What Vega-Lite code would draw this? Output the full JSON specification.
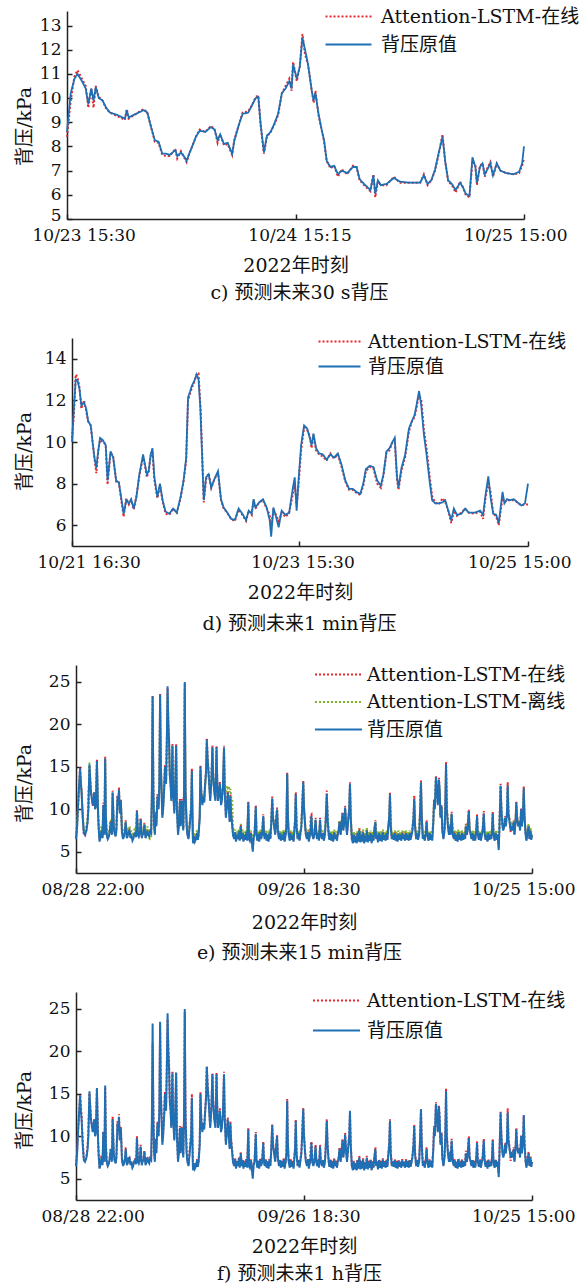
{
"$schema": "https://vega.github.io/schema/vega-lite/v6.json",
"background": "white",
"padding": {"left": 15, "top": 7, "right": 5, "bottom": 5},
"bounds": "flush",
"spacing": 119,
"resolve": {"scale": {"color": "independent", "strokeDash": "independent"}},
"config": {
  "font": "DejaVu Serif, Noto Sans CJK SC",
  "view": {"stroke": null},
  "axis": {"grid": false, "domainColor": "#222", "domainWidth": 1.5, "tickColor": "#222", "tickWidth": 1.5, "tickSize": -5, "labelFont": "DejaVu Serif, Noto Sans CJK SC", "labelFontSize": 17, "labelColor": "#111", "titleFont": "DejaVu Serif, Noto Sans CJK SC", "titleFontSize": 19, "titleFontWeight": "normal", "titleColor": "#111"},
  "axisX": {"labelPadding": 13, "titlePadding": 13, "labelFlush": true, "labelFlushOffset": 39, "labelOffset": 4, "labelAngle": 0},
  "axisY": {"labelPadding": 11, "titleAngle": -90, "titleAlign": "center", "titleBaseline": "middle"},
  "title": {"orient": "bottom", "font": "DejaVu Serif, Noto Sans CJK SC", "fontSize": 19, "fontWeight": "normal", "color": "#111", "offset": 9, "anchor": "middle"},
  "legend": {"orient": "none", "title": null, "labelFont": "DejaVu Serif, Noto Sans CJK SC", "labelFontSize": 19, "labelColor": "#111", "labelLimit": 400, "symbolType": "M-3,0H3", "symbolStrokeWidth": 2, "rowPadding": 8, "padding": 0}
},
"datasets": {
"c": [
{"t":0,"o":8.6,"a":8.4},{"t":10,"o":10.2,"a":9.9},{"t":20,"o":10.8,"a":10.9},{"t":28,"o":11.0,"a":11.15},{"t":40,"o":10.7,"a":10.8},{"t":50,"o":10.4,"a":10.5},{"t":57,"o":9.75,"a":9.6},{"t":65,"o":10.4,"a":10.4},{"t":71,"o":9.9,"a":9.6},{"t":77,"o":10.45,"a":10.5},{"t":85,"o":10.0,"a":10.05},{"t":95,"o":9.9,"a":9.9},{"t":105,"o":9.6,"a":9.55},{"t":115,"o":9.4,"a":9.4},{"t":135,"o":9.3,"a":9.25},{"t":155,"o":9.15,"a":9.1},{"t":160,"o":9.5,"a":9.55},{"t":165,"o":9.2,"a":9.15},{"t":185,"o":9.35,"a":9.35},{"t":205,"o":9.5,"a":9.55},{"t":215,"o":9.4,"a":9.4},{"t":225,"o":8.8,"a":8.8},{"t":235,"o":8.25,"a":8.2},{"t":245,"o":8.2,"a":8.15},{"t":255,"o":7.7,"a":7.65},{"t":265,"o":7.7,"a":7.6},{"t":275,"o":7.65,"a":7.6},{"t":290,"o":7.85,"a":7.9},{"t":295,"o":7.6,"a":7.5},{"t":305,"o":7.75,"a":7.8},{"t":315,"o":7.55,"a":7.5},{"t":320,"o":7.4,"a":7.35},{"t":327,"o":7.7,"a":7.7},{"t":335,"o":8.0,"a":8.0},{"t":345,"o":8.4,"a":8.4},{"t":355,"o":8.65,"a":8.7},{"t":370,"o":8.6,"a":8.6},{"t":385,"o":8.8,"a":8.85},{"t":395,"o":8.7,"a":8.7},{"t":403,"o":8.25,"a":8.15},{"t":410,"o":8.5,"a":8.5},{"t":420,"o":8.1,"a":8.05},{"t":430,"o":8.15,"a":8.1},{"t":442,"o":7.7,"a":7.65},{"t":448,"o":8.25,"a":8.3},{"t":460,"o":8.9,"a":8.9},{"t":470,"o":9.35,"a":9.4},{"t":485,"o":9.4,"a":9.45},{"t":495,"o":9.7,"a":9.7},{"t":505,"o":10.0,"a":10.05},{"t":512,"o":10.05,"a":10.1},{"t":518,"o":8.95,"a":8.9},{"t":527,"o":7.75,"a":7.7},{"t":535,"o":8.45,"a":8.4},{"t":545,"o":8.6,"a":8.6},{"t":555,"o":8.95,"a":8.9},{"t":565,"o":9.35,"a":9.3},{"t":575,"o":10.2,"a":10.2},{"t":585,"o":10.4,"a":10.5},{"t":595,"o":10.7,"a":10.8},{"t":601,"o":10.4,"a":10.3},{"t":605,"o":11.4,"a":11.5},{"t":610,"o":11.1,"a":11.1},{"t":615,"o":10.8,"a":10.7},{"t":623,"o":11.3,"a":11.3},{"t":630,"o":12.5,"a":12.65},{"t":637,"o":12.0,"a":11.8},{"t":645,"o":11.4,"a":11.4},{"t":655,"o":10.3,"a":10.3},{"t":660,"o":9.9,"a":9.8},{"t":665,"o":10.2,"a":10.3},{"t":673,"o":9.35,"a":9.3},{"t":680,"o":8.8,"a":8.8},{"t":688,"o":8.25,"a":8.2},{"t":695,"o":7.4,"a":7.4},{"t":705,"o":7.15,"a":7.1},{"t":715,"o":7.2,"a":7.2},{"t":725,"o":6.85,"a":6.75},{"t":735,"o":7.0,"a":7.05},{"t":750,"o":6.9,"a":6.85},{"t":765,"o":7.15,"a":7.2},{"t":775,"o":7.15,"a":7.15},{"t":783,"o":6.65,"a":6.6},{"t":795,"o":6.45,"a":6.4},{"t":805,"o":6.3,"a":6.25},{"t":812,"o":6.2,"a":6.15},{"t":820,"o":6.8,"a":6.85},{"t":825,"o":6.05,"a":5.9},{"t":832,"o":6.6,"a":6.55},{"t":840,"o":6.4,"a":6.4},{"t":855,"o":6.45,"a":6.4},{"t":875,"o":6.7,"a":6.75},{"t":890,"o":6.55,"a":6.5},{"t":915,"o":6.5,"a":6.5},{"t":945,"o":6.5,"a":6.5},{"t":955,"o":6.8,"a":6.85},{"t":965,"o":6.45,"a":6.4},{"t":975,"o":6.6,"a":6.6},{"t":985,"o":7.05,"a":7.0},{"t":995,"o":7.75,"a":7.7},{"t":1005,"o":8.4,"a":8.5},{"t":1012,"o":7.4,"a":7.4},{"t":1020,"o":6.6,"a":6.55},{"t":1030,"o":6.45,"a":6.4},{"t":1040,"o":6.2,"a":6.1},{"t":1052,"o":6.5,"a":6.55},{"t":1060,"o":6.3,"a":6.3},{"t":1067,"o":6.05,"a":6.0},{"t":1077,"o":5.95,"a":5.9},{"t":1085,"o":7.55,"a":7.4},{"t":1093,"o":7.15,"a":7.2},{"t":1097,"o":6.5,"a":6.4},{"t":1105,"o":7.15,"a":7.2},{"t":1112,"o":7.3,"a":7.3},{"t":1118,"o":6.85,"a":6.75},{"t":1125,"o":7.05,"a":7.1},{"t":1133,"o":7.3,"a":7.35},{"t":1140,"o":6.8,"a":6.75},{"t":1150,"o":7.3,"a":7.3},{"t":1160,"o":7.0,"a":7.0},{"t":1175,"o":6.9,"a":6.9},{"t":1195,"o":6.85,"a":6.85},{"t":1210,"o":6.95,"a":6.9},{"t":1218,"o":7.3,"a":7.2},{"t":1223,"o":8.0,"a":7.5}
],
"d": [
{"t":0,"o":10.0,"a":10.2},{"t":5,"o":11.6,"a":11.3},{"t":10,"o":13.0,"a":13.25},{"t":15,"o":12.95,"a":13.1},{"t":20,"o":12.55,"a":12.6},{"t":25,"o":11.75,"a":11.6},{"t":32,"o":11.9,"a":12.0},{"t":38,"o":11.6,"a":11.5},{"t":43,"o":11.0,"a":11.0},{"t":50,"o":10.8,"a":10.8},{"t":55,"o":10.0,"a":10.0},{"t":60,"o":9.25,"a":9.2},{"t":65,"o":8.75,"a":8.5},{"t":70,"o":9.55,"a":9.6},{"t":75,"o":10.2,"a":10.1},{"t":82,"o":10.1,"a":10.0},{"t":90,"o":9.85,"a":9.9},{"t":95,"o":8.15,"a":7.95},{"t":103,"o":9.55,"a":9.5},{"t":110,"o":9.25,"a":9.3},{"t":118,"o":8.15,"a":8.1},{"t":125,"o":8.05,"a":8.1},{"t":130,"o":7.5,"a":7.4},{"t":138,"o":6.55,"a":6.4},{"t":145,"o":7.2,"a":7.3},{"t":152,"o":7.05,"a":7.0},{"t":158,"o":7.25,"a":7.2},{"t":165,"o":6.8,"a":6.75},{"t":172,"o":7.35,"a":7.4},{"t":180,"o":8.45,"a":8.4},{"t":190,"o":9.4,"a":9.3},{"t":195,"o":8.9,"a":8.85},{"t":200,"o":8.45,"a":8.3},{"t":205,"o":8.6,"a":8.6},{"t":210,"o":9.4,"a":9.3},{"t":215,"o":9.7,"a":9.5},{"t":220,"o":8.3,"a":8.2},{"t":228,"o":7.35,"a":7.3},{"t":235,"o":8.0,"a":7.9},{"t":242,"o":7.2,"a":7.15},{"t":250,"o":6.65,"a":6.55},{"t":260,"o":6.55,"a":6.5},{"t":270,"o":6.8,"a":6.8},{"t":280,"o":6.6,"a":6.6},{"t":290,"o":7.35,"a":7.3},{"t":298,"o":8.15,"a":8.1},{"t":305,"o":9.25,"a":9.1},{"t":310,"o":12.15,"a":12.0},{"t":315,"o":12.4,"a":12.3},{"t":320,"o":12.7,"a":12.6},{"t":327,"o":12.95,"a":12.9},{"t":333,"o":13.25,"a":13.3},{"t":338,"o":13.0,"a":13.3},{"t":343,"o":11.6,"a":11.7},{"t":348,"o":9.1,"a":9.3},{"t":352,"o":7.2,"a":7.1},{"t":358,"o":8.3,"a":8.2},{"t":365,"o":8.45,"a":8.5},{"t":372,"o":7.8,"a":7.8},{"t":380,"o":8.2,"a":8.2},{"t":390,"o":8.6,"a":8.5},{"t":398,"o":7.25,"a":7.2},{"t":405,"o":6.85,"a":6.8},{"t":415,"o":6.6,"a":6.6},{"t":425,"o":6.3,"a":6.3},{"t":435,"o":6.25,"a":6.2},{"t":445,"o":6.8,"a":6.75},{"t":455,"o":6.55,"a":6.5},{"t":465,"o":6.25,"a":6.2},{"t":472,"o":6.7,"a":6.7},{"t":480,"o":6.55,"a":6.5},{"t":485,"o":7.25,"a":7.2},{"t":490,"o":6.85,"a":6.8},{"t":500,"o":7.1,"a":7.1},{"t":510,"o":7.25,"a":7.2},{"t":520,"o":6.85,"a":6.8},{"t":528,"o":6.25,"a":6.5},{"t":532,"o":5.45,"a":6.0},{"t":538,"o":6.85,"a":6.7},{"t":545,"o":6.4,"a":6.5},{"t":552,"o":5.9,"a":6.2},{"t":560,"o":6.7,"a":6.6},{"t":570,"o":6.5,"a":6.4},{"t":580,"o":6.6,"a":6.6},{"t":590,"o":7.8,"a":7.5},{"t":595,"o":8.3,"a":8.0},{"t":600,"o":6.7,"a":6.9},{"t":605,"o":8.15,"a":7.9},{"t":612,"o":9.85,"a":9.6},{"t":620,"o":10.8,"a":10.7},{"t":628,"o":10.65,"a":10.6},{"t":635,"o":10.2,"a":10.3},{"t":640,"o":9.85,"a":9.7},{"t":645,"o":10.4,"a":10.35},{"t":652,"o":9.7,"a":9.6},{"t":660,"o":9.45,"a":9.4},{"t":670,"o":9.4,"a":9.3},{"t":680,"o":9.15,"a":9.1},{"t":690,"o":9.4,"a":9.45},{"t":700,"o":9.25,"a":9.2},{"t":710,"o":9.45,"a":9.4},{"t":720,"o":8.9,"a":8.8},{"t":730,"o":8.15,"a":8.1},{"t":740,"o":7.75,"a":7.7},{"t":750,"o":7.75,"a":7.7},{"t":760,"o":7.6,"a":7.55},{"t":770,"o":7.5,"a":7.45},{"t":778,"o":8.0,"a":7.9},{"t":785,"o":8.7,"a":8.6},{"t":795,"o":8.85,"a":8.8},{"t":805,"o":8.8,"a":8.75},{"t":815,"o":8.15,"a":8.0},{"t":825,"o":7.9,"a":7.8},{"t":832,"o":8.45,"a":8.4},{"t":840,"o":9.55,"a":9.5},{"t":848,"o":9.7,"a":9.6},{"t":856,"o":10.0,"a":10.0},{"t":862,"o":10.2,"a":10.1},{"t":868,"o":8.35,"a":8.2},{"t":872,"o":7.8,"a":7.7},{"t":880,"o":8.75,"a":8.6},{"t":890,"o":9.4,"a":9.3},{"t":900,"o":10.65,"a":10.5},{"t":908,"o":11.0,"a":11.0},{"t":915,"o":11.3,"a":11.2},{"t":920,"o":11.75,"a":11.6},{"t":927,"o":12.45,"a":12.3},{"t":933,"o":11.75,"a":12.0},{"t":940,"o":10.35,"a":10.6},{"t":947,"o":9.4,"a":9.7},{"t":955,"o":8.15,"a":8.4},{"t":962,"o":7.2,"a":7.4},{"t":970,"o":7.05,"a":7.1},{"t":980,"o":7.05,"a":7.0},{"t":990,"o":7.1,"a":7.3},{"t":997,"o":7.2,"a":7.1},{"t":1005,"o":6.7,"a":6.7},{"t":1013,"o":6.25,"a":6.1},{"t":1020,"o":6.8,"a":6.7},{"t":1028,"o":6.5,"a":6.45},{"t":1040,"o":6.55,"a":6.6},{"t":1050,"o":6.8,"a":6.8},{"t":1060,"o":6.6,"a":6.6},{"t":1075,"o":6.6,"a":6.55},{"t":1090,"o":6.7,"a":6.65},{"t":1098,"o":6.5,"a":6.3},{"t":1105,"o":7.5,"a":7.4},{"t":1112,"o":8.35,"a":8.0},{"t":1118,"o":7.35,"a":7.6},{"t":1125,"o":6.55,"a":6.6},{"t":1133,"o":6.5,"a":6.4},{"t":1140,"o":6.1,"a":6.0},{"t":1145,"o":6.85,"a":6.7},{"t":1150,"o":7.6,"a":7.3},{"t":1155,"o":7.05,"a":7.1},{"t":1162,"o":7.25,"a":7.2},{"t":1170,"o":7.2,"a":7.2},{"t":1180,"o":7.25,"a":7.2},{"t":1190,"o":7.1,"a":7.1},{"t":1200,"o":6.95,"a":6.95},{"t":1210,"o":7.05,"a":7.0},{"t":1218,"o":8.0,"a":7.0}
],
"ef": [
{"t":0,"o":6.5,"a":6.7,"b":7.2,"h":6.6},{"t":3,"o":8.0,"a":8.2,"b":8.5,"h":8.3},{"t":5,"o":10.0,"a":10.2,"b":9.8,"h":10.3},{"t":8,"o":12.5,"a":12.7,"b":12.0,"h":12.6},{"t":11,"o":14.8,"a":15.0,"b":14.2,"h":14.9},{"t":13,"o":13.0,"a":13.2,"b":13.0,"h":13.5},{"t":15,"o":12.0,"a":12.2,"b":12.0,"h":12.4},{"t":18,"o":9.0,"a":9.2,"b":9.5,"h":9.4},{"t":21,"o":7.2,"a":7.0,"b":7.6,"h":7.3},{"t":24,"o":7.0,"a":6.9,"b":7.5,"h":7.0},{"t":28,"o":7.5,"a":7.6,"b":8.0,"h":7.6},{"t":31,"o":8.5,"a":8.6,"b":9.0,"h":8.8},{"t":33,"o":10.0,"a":10.2,"b":10.2,"h":10.3},{"t":36,"o":15.3,"a":15.0,"b":15.5,"h":15.1},{"t":38,"o":13.5,"a":13.8,"b":13.0,"h":13.7},{"t":40,"o":12.0,"a":12.3,"b":12.0,"h":12.2},{"t":43,"o":11.0,"a":11.2,"b":11.3,"h":11.0},{"t":45,"o":10.5,"a":10.4,"b":10.8,"h":10.6},{"t":49,"o":12.0,"a":12.1,"b":11.5,"h":12.0},{"t":51,"o":10.0,"a":10.2,"b":10.5,"h":10.2},{"t":53,"o":10.3,"a":10.5,"b":10.4,"h":10.4},{"t":56,"o":15.7,"a":15.9,"b":15.2,"h":15.6},{"t":59,"o":9.5,"a":9.8,"b":10.0,"h":9.6},{"t":61,"o":7.5,"a":7.6,"b":8.0,"h":7.6},{"t":63,"o":6.2,"a":6.4,"b":6.9,"h":6.3},{"t":66,"o":6.8,"a":6.9,"b":7.3,"h":6.9},{"t":68,"o":7.5,"a":7.6,"b":8.0,"h":7.8},{"t":71,"o":6.6,"a":6.7,"b":7.2,"h":6.8},{"t":73,"o":10.5,"a":10.8,"b":10.0,"h":10.6},{"t":76,"o":7.0,"a":7.2,"b":7.5,"h":7.1},{"t":78,"o":16.0,"a":16.2,"b":15.5,"h":15.8},{"t":80,"o":9.0,"a":9.3,"b":9.5,"h":9.2},{"t":82,"o":7.0,"a":7.1,"b":7.5,"h":7.1},{"t":85,"o":6.5,"a":6.6,"b":7.1,"h":6.6},{"t":88,"o":6.8,"a":6.9,"b":7.3,"h":6.9},{"t":90,"o":7.3,"a":7.4,"b":7.8,"h":7.4},{"t":93,"o":8.5,"a":8.7,"b":8.8,"h":8.6},{"t":96,"o":7.0,"a":7.1,"b":7.5,"h":7.2},{"t":98,"o":12.0,"a":12.2,"b":11.5,"h":12.3},{"t":101,"o":8.0,"a":8.2,"b":8.5,"h":8.1},{"t":103,"o":7.2,"a":7.3,"b":7.7,"h":7.3},{"t":106,"o":6.8,"a":6.9,"b":7.3,"h":6.9},{"t":108,"o":7.5,"a":7.6,"b":8.0,"h":7.6},{"t":111,"o":11.5,"a":11.7,"b":11.0,"h":11.8},{"t":113,"o":10.5,"a":10.7,"b":10.8,"h":10.6},{"t":115,"o":12.3,"a":12.6,"b":11.8,"h":12.6},{"t":117,"o":9.5,"a":9.8,"b":10.0,"h":9.7},{"t":120,"o":11.0,"a":11.2,"b":10.8,"h":11.1},{"t":123,"o":7.2,"a":7.4,"b":7.8,"h":7.3},{"t":126,"o":6.5,"a":6.6,"b":7.1,"h":6.6},{"t":128,"o":6.8,"a":6.9,"b":7.3,"h":6.9},{"t":131,"o":7.3,"a":7.4,"b":7.8,"h":7.4},{"t":133,"o":8.5,"a":8.7,"b":8.5,"h":8.7},{"t":136,"o":6.6,"a":6.7,"b":7.2,"h":6.7},{"t":138,"o":6.8,"a":6.9,"b":7.3,"h":6.9},{"t":141,"o":7.4,"a":7.5,"b":7.9,"h":7.5},{"t":143,"o":7.5,"a":7.6,"b":8.0,"h":7.6},{"t":146,"o":6.6,"a":6.7,"b":7.2,"h":6.7},{"t":148,"o":7.0,"a":7.1,"b":7.5,"h":7.1},{"t":151,"o":6.3,"a":6.4,"b":6.9,"h":6.4},{"t":153,"o":6.5,"a":6.6,"b":7.1,"h":6.6},{"t":156,"o":7.1,"a":7.2,"b":7.6,"h":7.2},{"t":158,"o":7.2,"a":7.3,"b":7.7,"h":7.3},{"t":161,"o":6.7,"a":6.8,"b":7.2,"h":6.8},{"t":163,"o":9.8,"a":10.0,"b":9.5,"h":10.0},{"t":166,"o":7.0,"a":7.1,"b":7.5,"h":7.1},{"t":168,"o":6.8,"a":6.9,"b":7.3,"h":6.9},{"t":171,"o":7.3,"a":7.4,"b":7.8,"h":7.4},{"t":173,"o":8.8,"a":9.0,"b":8.6,"h":9.0},{"t":176,"o":6.6,"a":6.7,"b":7.2,"h":6.7},{"t":178,"o":7.0,"a":7.1,"b":7.5,"h":7.1},{"t":181,"o":7.2,"a":7.3,"b":7.7,"h":7.3},{"t":183,"o":8.2,"a":8.4,"b":8.2,"h":8.3},{"t":186,"o":6.6,"a":6.7,"b":7.2,"h":6.7},{"t":188,"o":6.9,"a":7.0,"b":7.4,"h":7.0},{"t":191,"o":7.5,"a":7.6,"b":8.0,"h":7.6},{"t":193,"o":7.0,"a":7.1,"b":7.4,"h":7.1},{"t":196,"o":6.8,"a":6.9,"b":6.6,"h":6.9},{"t":198,"o":7.4,"a":7.5,"b":6.5,"h":7.5},{"t":201,"o":7.2,"a":7.3,"b":6.6,"h":7.3},{"t":203,"o":12.0,"a":11.0,"b":11.0,"h":10.0},{"t":205,"o":23.3,"a":23.4,"b":21.5,"h":21.0},{"t":207,"o":12.0,"a":12.5,"b":12.0,"h":13.0},{"t":209,"o":8.0,"a":8.3,"b":8.5,"h":8.5},{"t":211,"o":7.0,"a":7.2,"b":7.5,"h":7.3},{"t":213,"o":9.5,"a":9.7,"b":9.5,"h":9.8},{"t":215,"o":8.0,"a":8.2,"b":8.5,"h":8.2},{"t":218,"o":11.5,"a":11.8,"b":11.0,"h":11.8},{"t":221,"o":10.0,"a":10.3,"b":10.5,"h":10.2},{"t":223,"o":13.0,"a":13.3,"b":12.5,"h":13.5},{"t":225,"o":23.5,"a":23.6,"b":22.5,"h":23.2},{"t":227,"o":15.0,"a":15.5,"b":15.0,"h":15.8},{"t":229,"o":12.0,"a":12.3,"b":12.5,"h":12.4},{"t":231,"o":9.0,"a":9.3,"b":9.5,"h":9.4},{"t":233,"o":10.0,"a":10.3,"b":10.0,"h":10.3},{"t":236,"o":12.5,"a":12.8,"b":12.3,"h":12.7},{"t":238,"o":15.0,"a":15.2,"b":14.5,"h":15.3},{"t":241,"o":13.0,"a":13.3,"b":13.2,"h":13.4},{"t":243,"o":18.0,"a":18.3,"b":17.5,"h":18.5},{"t":245,"o":24.5,"a":24.3,"b":23.5,"h":23.8},{"t":247,"o":20.0,"a":20.5,"b":19.5,"h":20.5},{"t":249,"o":18.0,"a":18.2,"b":17.5,"h":18.4},{"t":251,"o":14.0,"a":14.3,"b":14.0,"h":14.5},{"t":253,"o":13.0,"a":13.2,"b":13.0,"h":13.3},{"t":255,"o":11.0,"a":11.3,"b":11.5,"h":11.2},{"t":258,"o":17.5,"a":17.7,"b":17.0,"h":17.6},{"t":260,"o":12.0,"a":12.3,"b":12.3,"h":12.4},{"t":263,"o":9.5,"a":9.8,"b":10.0,"h":9.7},{"t":265,"o":12.0,"a":12.2,"b":12.0,"h":12.3},{"t":268,"o":17.5,"a":17.7,"b":17.0,"h":17.6},{"t":270,"o":10.0,"a":10.3,"b":10.5,"h":10.2},{"t":273,"o":7.0,"a":7.2,"b":7.5,"h":7.2},{"t":275,"o":8.0,"a":8.2,"b":8.5,"h":8.3},{"t":278,"o":11.0,"a":11.2,"b":10.8,"h":11.2},{"t":280,"o":8.0,"a":8.2,"b":8.5,"h":8.3},{"t":283,"o":11.0,"a":11.2,"b":10.8,"h":11.2},{"t":285,"o":9.0,"a":9.2,"b":9.5,"h":9.3},{"t":287,"o":7.5,"a":7.7,"b":8.0,"h":7.8},{"t":289,"o":12.0,"a":12.5,"b":11.5,"h":12.5},{"t":291,"o":25.0,"a":24.8,"b":24.0,"h":24.6},{"t":293,"o":12.0,"a":12.5,"b":12.5,"h":13.0},{"t":296,"o":8.0,"a":8.3,"b":8.5,"h":8.4},{"t":298,"o":7.0,"a":7.2,"b":7.5,"h":7.2},{"t":301,"o":6.5,"a":6.6,"b":7.0,"h":6.6},{"t":303,"o":7.5,"a":7.6,"b":8.0,"h":7.7},{"t":305,"o":8.5,"a":8.7,"b":8.8,"h":8.8},{"t":308,"o":10.0,"a":10.5,"b":10.0,"h":10.6},{"t":310,"o":14.5,"a":14.8,"b":14.0,"h":15.0},{"t":312,"o":8.0,"a":8.5,"b":8.5,"h":8.8},{"t":313,"o":6.0,"a":6.1,"b":6.5,"h":6.2},{"t":316,"o":6.8,"a":6.9,"b":7.3,"h":6.9},{"t":318,"o":6.2,"a":6.3,"b":6.8,"h":6.3},{"t":321,"o":6.5,"a":6.6,"b":7.0,"h":6.6},{"t":324,"o":7.2,"a":7.3,"b":7.6,"h":7.3},{"t":326,"o":6.4,"a":6.5,"b":7.0,"h":6.5},{"t":328,"o":7.0,"a":7.1,"b":7.5,"h":7.1},{"t":331,"o":9.0,"a":9.3,"b":9.0,"h":9.3},{"t":333,"o":15.0,"a":15.2,"b":14.5,"h":15.2},{"t":335,"o":12.0,"a":12.3,"b":12.0,"h":12.4},{"t":338,"o":10.5,"a":10.7,"b":11.0,"h":10.8},{"t":341,"o":11.5,"a":11.7,"b":11.5,"h":11.7},{"t":343,"o":10.8,"a":11.0,"b":11.2,"h":11.0},{"t":345,"o":12.5,"a":12.8,"b":12.5,"h":12.7},{"t":348,"o":14.5,"a":14.7,"b":14.0,"h":14.8},{"t":350,"o":18.2,"a":18.4,"b":17.5,"h":18.3},{"t":352,"o":16.0,"a":16.3,"b":15.8,"h":16.2},{"t":355,"o":14.0,"a":14.3,"b":14.0,"h":14.4},{"t":357,"o":12.5,"a":12.8,"b":12.8,"h":12.7},{"t":359,"o":11.0,"a":11.3,"b":11.5,"h":11.2},{"t":362,"o":13.0,"a":13.2,"b":13.0,"h":13.3},{"t":365,"o":17.3,"a":17.5,"b":16.8,"h":17.4},{"t":367,"o":14.0,"a":14.3,"b":14.0,"h":14.2},{"t":370,"o":12.0,"a":12.2,"b":12.3,"h":12.2},{"t":373,"o":11.0,"a":11.2,"b":11.5,"h":11.2},{"t":376,"o":17.3,"a":17.5,"b":16.8,"h":17.5},{"t":378,"o":13.0,"a":13.3,"b":13.0,"h":13.2},{"t":380,"o":11.0,"a":11.2,"b":11.5,"h":11.3},{"t":383,"o":12.0,"a":12.2,"b":12.3,"h":12.2},{"t":385,"o":13.0,"a":13.2,"b":12.8,"h":13.3},{"t":388,"o":10.5,"a":10.7,"b":11.3,"h":10.7},{"t":390,"o":11.0,"a":11.2,"b":11.5,"h":11.2},{"t":393,"o":12.5,"a":12.7,"b":12.5,"h":12.6},{"t":396,"o":17.3,"a":17.5,"b":16.5,"h":17.6},{"t":398,"o":12.0,"a":12.3,"b":12.5,"h":12.4},{"t":401,"o":9.0,"a":9.3,"b":12.0,"h":9.3},{"t":404,"o":10.5,"a":10.7,"b":12.8,"h":10.8},{"t":406,"o":12.0,"a":12.2,"b":12.5,"h":12.2},{"t":409,"o":10.0,"a":10.3,"b":12.7,"h":10.4},{"t":411,"o":8.5,"a":8.7,"b":12.0,"h":8.8},{"t":413,"o":11.5,"a":11.8,"b":12.4,"h":11.8},{"t":415,"o":9.5,"a":9.8,"b":11.5,"h":9.7},{"t":418,"o":8.0,"a":8.2,"b":11.0,"h":8.3},{"t":420,"o":7.0,"a":7.2,"b":8.0,"h":7.2},{"t":423,"o":6.5,"a":6.6,"b":7.2,"h":6.6},{"t":426,"o":7.3,"a":7.4,"b":7.6,"h":7.4},{"t":428,"o":6.2,"a":6.3,"b":6.8,"h":6.3},{"t":431,"o":7.0,"a":7.1,"b":7.4,"h":7.1},{"t":433,"o":6.5,"a":6.6,"b":7.0,"h":6.6},{"t":436,"o":7.4,"a":7.5,"b":7.7,"h":7.5},{"t":438,"o":6.3,"a":6.4,"b":6.9,"h":6.4},{"t":441,"o":8.0,"a":8.2,"b":8.3,"h":8.2},{"t":443,"o":6.5,"a":6.6,"b":7.0,"h":6.6},{"t":446,"o":7.2,"a":7.3,"b":7.6,"h":7.3},{"t":448,"o":6.2,"a":6.3,"b":6.8,"h":6.3},{"t":451,"o":7.0,"a":7.1,"b":7.4,"h":7.1},{"t":453,"o":6.4,"a":6.5,"b":6.9,"h":6.5},{"t":456,"o":7.3,"a":7.4,"b":7.6,"h":7.4},{"t":458,"o":6.3,"a":6.4,"b":6.9,"h":6.4},{"t":461,"o":10.8,"a":11.0,"b":10.5,"h":11.0},{"t":463,"o":6.5,"a":6.7,"b":7.0,"h":6.7},{"t":465,"o":6.3,"a":6.4,"b":6.9,"h":6.4},{"t":468,"o":7.2,"a":7.3,"b":7.5,"h":7.3},{"t":470,"o":6.4,"a":6.5,"b":6.9,"h":6.5},{"t":473,"o":5.0,"a":5.3,"b":6.0,"h":5.4},{"t":475,"o":6.5,"a":6.6,"b":7.0,"h":6.6},{"t":478,"o":7.2,"a":7.3,"b":7.5,"h":7.3},{"t":481,"o":10.3,"a":10.5,"b":10.0,"h":10.5},{"t":483,"o":7.0,"a":7.1,"b":7.4,"h":7.1},{"t":485,"o":6.3,"a":6.4,"b":6.9,"h":6.4},{"t":488,"o":7.1,"a":7.2,"b":7.5,"h":7.2},{"t":490,"o":6.2,"a":6.3,"b":6.8,"h":6.3},{"t":493,"o":7.3,"a":7.4,"b":7.6,"h":7.4},{"t":495,"o":6.5,"a":6.6,"b":7.0,"h":6.6},{"t":498,"o":7.0,"a":7.1,"b":7.4,"h":7.1},{"t":501,"o":9.2,"a":9.4,"b":9.0,"h":9.4},{"t":503,"o":7.0,"a":7.1,"b":7.4,"h":7.1},{"t":505,"o":6.5,"a":6.6,"b":7.0,"h":6.6},{"t":508,"o":7.2,"a":7.3,"b":7.5,"h":7.3},{"t":510,"o":6.3,"a":6.4,"b":6.9,"h":6.4},{"t":513,"o":7.0,"a":7.1,"b":7.4,"h":7.1},{"t":515,"o":6.2,"a":6.3,"b":6.8,"h":6.3},{"t":518,"o":7.3,"a":7.4,"b":7.6,"h":7.4},{"t":520,"o":6.5,"a":6.6,"b":7.0,"h":6.6},{"t":522,"o":8.0,"a":8.2,"b":8.2,"h":8.2},{"t":525,"o":11.3,"a":11.5,"b":11.0,"h":11.5},{"t":527,"o":9.0,"a":9.2,"b":9.3,"h":9.2},{"t":530,"o":8.0,"a":8.2,"b":8.4,"h":8.2},{"t":533,"o":7.0,"a":7.1,"b":7.5,"h":7.1},{"t":535,"o":8.5,"a":8.7,"b":8.6,"h":8.7},{"t":538,"o":10.0,"a":10.2,"b":9.8,"h":10.2},{"t":540,"o":7.5,"a":7.6,"b":7.8,"h":7.6},{"t":543,"o":6.5,"a":6.6,"b":7.0,"h":6.6},{"t":546,"o":7.2,"a":7.3,"b":7.5,"h":7.3},{"t":548,"o":6.3,"a":6.4,"b":6.9,"h":6.4},{"t":551,"o":7.0,"a":7.1,"b":7.4,"h":7.1},{"t":553,"o":6.4,"a":6.5,"b":6.9,"h":6.5},{"t":556,"o":7.3,"a":7.4,"b":7.6,"h":7.4},{"t":558,"o":6.2,"a":6.3,"b":6.8,"h":6.3},{"t":561,"o":7.0,"a":7.1,"b":7.4,"h":7.1},{"t":563,"o":8.0,"a":8.2,"b":8.2,"h":8.2},{"t":565,"o":14.2,"a":14.3,"b":13.8,"h":14.4},{"t":567,"o":9.0,"a":9.2,"b":9.3,"h":9.2},{"t":569,"o":7.0,"a":7.1,"b":7.4,"h":7.1},{"t":572,"o":6.3,"a":6.4,"b":6.9,"h":6.4},{"t":574,"o":7.2,"a":7.3,"b":7.5,"h":7.3},{"t":577,"o":6.4,"a":6.5,"b":6.9,"h":6.5},{"t":579,"o":7.0,"a":7.1,"b":7.4,"h":7.1},{"t":582,"o":6.2,"a":6.3,"b":6.8,"h":6.3},{"t":584,"o":7.3,"a":7.4,"b":7.6,"h":7.4},{"t":586,"o":8.5,"a":8.7,"b":8.6,"h":8.7},{"t":588,"o":11.8,"a":12.0,"b":11.3,"h":12.0},{"t":590,"o":8.0,"a":8.2,"b":8.4,"h":8.2},{"t":593,"o":6.5,"a":6.6,"b":7.0,"h":6.6},{"t":596,"o":7.2,"a":7.3,"b":7.5,"h":7.3},{"t":598,"o":6.3,"a":6.4,"b":6.9,"h":6.4},{"t":600,"o":7.0,"a":7.1,"b":7.4,"h":7.1},{"t":603,"o":8.0,"a":8.2,"b":8.2,"h":8.2},{"t":605,"o":10.0,"a":10.2,"b":10.0,"h":10.2},{"t":608,"o":13.2,"a":13.4,"b":12.8,"h":13.4},{"t":610,"o":10.0,"a":10.3,"b":10.4,"h":10.3},{"t":613,"o":8.0,"a":8.2,"b":8.4,"h":8.2},{"t":615,"o":7.0,"a":7.1,"b":7.4,"h":7.1},{"t":618,"o":6.5,"a":6.6,"b":7.0,"h":6.6},{"t":621,"o":7.3,"a":7.4,"b":7.6,"h":7.4},{"t":623,"o":6.2,"a":6.3,"b":6.8,"h":6.3},{"t":626,"o":7.0,"a":7.1,"b":7.4,"h":7.1},{"t":628,"o":7.5,"a":9.3,"b":7.8,"h":9.0},{"t":630,"o":9.2,"a":9.4,"b":9.0,"h":9.4},{"t":632,"o":7.0,"a":7.1,"b":7.4,"h":7.1},{"t":635,"o":6.5,"a":6.6,"b":7.0,"h":6.6},{"t":638,"o":7.2,"a":7.3,"b":7.5,"h":7.3},{"t":641,"o":8.8,"a":9.0,"b":8.6,"h":9.0},{"t":643,"o":7.0,"a":7.1,"b":7.4,"h":7.1},{"t":645,"o":6.5,"a":6.6,"b":7.0,"h":6.6},{"t":648,"o":7.2,"a":7.3,"b":7.5,"h":7.3},{"t":650,"o":6.3,"a":6.4,"b":6.9,"h":6.4},{"t":653,"o":8.8,"a":9.0,"b":8.6,"h":9.0},{"t":655,"o":7.0,"a":7.1,"b":7.4,"h":7.1},{"t":658,"o":6.5,"a":6.6,"b":7.0,"h":6.6},{"t":661,"o":7.2,"a":7.3,"b":7.5,"h":7.3},{"t":663,"o":6.3,"a":6.4,"b":6.9,"h":6.4},{"t":666,"o":7.0,"a":7.1,"b":7.4,"h":7.1},{"t":668,"o":8.5,"a":8.7,"b":8.6,"h":8.7},{"t":671,"o":11.8,"a":12.2,"b":11.3,"h":12.0},{"t":673,"o":9.0,"a":9.2,"b":9.3,"h":9.2},{"t":676,"o":7.0,"a":7.1,"b":7.4,"h":7.1},{"t":678,"o":6.4,"a":6.5,"b":6.9,"h":6.5},{"t":681,"o":7.2,"a":7.3,"b":7.5,"h":7.3},{"t":683,"o":6.3,"a":6.4,"b":6.9,"h":6.4},{"t":686,"o":7.0,"a":7.1,"b":7.4,"h":7.1},{"t":688,"o":6.2,"a":6.3,"b":6.8,"h":6.3},{"t":691,"o":7.3,"a":7.4,"b":7.6,"h":7.4},{"t":693,"o":6.5,"a":6.6,"b":7.0,"h":6.6},{"t":696,"o":7.0,"a":7.1,"b":7.4,"h":7.1},{"t":698,"o":6.3,"a":6.4,"b":6.9,"h":6.4},{"t":701,"o":7.2,"a":7.3,"b":7.5,"h":7.3},{"t":703,"o":7.5,"a":7.6,"b":7.8,"h":7.6},{"t":705,"o":8.5,"a":8.7,"b":8.6,"h":8.7},{"t":708,"o":7.0,"a":7.1,"b":7.4,"h":7.1},{"t":710,"o":8.0,"a":8.2,"b":8.2,"h":8.2},{"t":713,"o":9.5,"a":9.7,"b":9.3,"h":9.7},{"t":715,"o":7.5,"a":7.6,"b":7.8,"h":7.6},{"t":718,"o":8.5,"a":8.7,"b":8.6,"h":8.7},{"t":720,"o":10.2,"a":10.4,"b":10.0,"h":10.4},{"t":723,"o":8.0,"a":8.2,"b":8.3,"h":8.2},{"t":725,"o":7.0,"a":7.1,"b":7.4,"h":7.1},{"t":728,"o":8.5,"a":8.7,"b":8.6,"h":8.7},{"t":731,"o":10.0,"a":10.2,"b":10.0,"h":10.2},{"t":733,"o":13.0,"a":13.2,"b":12.5,"h":12.8},{"t":735,"o":9.0,"a":9.2,"b":9.3,"h":9.2},{"t":738,"o":6.5,"a":6.6,"b":7.0,"h":6.6},{"t":741,"o":6.0,"a":6.2,"b":6.7,"h":6.2},{"t":743,"o":7.0,"a":7.1,"b":7.4,"h":7.1},{"t":746,"o":6.1,"a":6.2,"b":6.7,"h":6.2},{"t":748,"o":6.8,"a":6.9,"b":7.2,"h":6.9},{"t":751,"o":6.0,"a":6.1,"b":6.6,"h":6.1},{"t":753,"o":7.2,"a":7.3,"b":7.5,"h":7.3},{"t":756,"o":6.2,"a":6.3,"b":6.8,"h":6.3},{"t":758,"o":7.5,"a":7.8,"b":7.8,"h":7.7},{"t":761,"o":6.1,"a":6.2,"b":6.7,"h":6.2},{"t":763,"o":7.0,"a":7.1,"b":7.4,"h":7.1},{"t":766,"o":6.2,"a":6.3,"b":6.8,"h":6.3},{"t":768,"o":7.3,"a":7.4,"b":7.6,"h":7.4},{"t":771,"o":6.0,"a":6.1,"b":6.6,"h":6.1},{"t":773,"o":6.9,"a":7.0,"b":7.3,"h":7.0},{"t":776,"o":6.2,"a":6.3,"b":6.8,"h":6.3},{"t":778,"o":7.5,"a":7.7,"b":7.8,"h":7.7},{"t":781,"o":6.1,"a":6.2,"b":6.7,"h":6.2},{"t":783,"o":7.0,"a":7.1,"b":7.4,"h":7.1},{"t":786,"o":6.3,"a":6.4,"b":6.9,"h":6.4},{"t":788,"o":7.2,"a":7.3,"b":7.5,"h":7.3},{"t":791,"o":6.0,"a":6.1,"b":6.6,"h":6.1},{"t":793,"o":7.0,"a":7.1,"b":7.4,"h":7.1},{"t":796,"o":6.3,"a":6.4,"b":6.9,"h":6.4},{"t":798,"o":7.4,"a":7.5,"b":7.7,"h":7.5},{"t":801,"o":8.5,"a":8.7,"b":8.5,"h":8.7},{"t":803,"o":6.5,"a":6.6,"b":7.0,"h":6.6},{"t":806,"o":7.0,"a":7.1,"b":7.4,"h":7.1},{"t":808,"o":6.1,"a":6.2,"b":6.7,"h":6.2},{"t":811,"o":7.2,"a":7.3,"b":7.5,"h":7.3},{"t":813,"o":6.3,"a":6.4,"b":6.9,"h":6.4},{"t":816,"o":7.0,"a":7.1,"b":7.4,"h":7.1},{"t":818,"o":6.2,"a":6.3,"b":6.8,"h":6.3},{"t":821,"o":7.3,"a":7.4,"b":7.6,"h":7.4},{"t":823,"o":6.4,"a":6.5,"b":6.9,"h":6.5},{"t":826,"o":7.0,"a":7.1,"b":7.4,"h":7.1},{"t":828,"o":6.3,"a":6.4,"b":6.9,"h":6.4},{"t":831,"o":7.2,"a":7.3,"b":7.5,"h":7.3},{"t":833,"o":6.4,"a":6.5,"b":6.9,"h":6.5},{"t":836,"o":8.0,"a":8.2,"b":8.2,"h":8.2},{"t":838,"o":9.0,"a":9.2,"b":9.0,"h":9.2},{"t":840,"o":11.8,"a":12.0,"b":11.3,"h":12.0},{"t":842,"o":8.0,"a":8.2,"b":8.4,"h":8.2},{"t":845,"o":6.5,"a":6.6,"b":7.0,"h":6.6},{"t":848,"o":7.0,"a":7.1,"b":7.4,"h":7.1},{"t":850,"o":6.4,"a":6.5,"b":6.9,"h":6.5},{"t":853,"o":7.2,"a":7.3,"b":7.5,"h":7.3},{"t":855,"o":6.3,"a":6.4,"b":6.9,"h":6.4},{"t":858,"o":7.0,"a":7.1,"b":7.4,"h":7.1},{"t":860,"o":6.2,"a":6.3,"b":6.8,"h":6.3},{"t":863,"o":7.1,"a":7.2,"b":7.5,"h":7.2},{"t":865,"o":6.4,"a":6.5,"b":6.9,"h":6.5},{"t":868,"o":7.0,"a":7.1,"b":7.4,"h":7.1},{"t":870,"o":6.3,"a":6.4,"b":6.9,"h":6.4},{"t":873,"o":7.2,"a":7.3,"b":7.5,"h":7.3},{"t":875,"o":6.5,"a":6.6,"b":7.0,"h":6.6},{"t":878,"o":7.0,"a":7.1,"b":7.4,"h":7.1},{"t":880,"o":6.3,"a":6.4,"b":6.9,"h":6.4},{"t":883,"o":7.2,"a":7.3,"b":7.5,"h":7.3},{"t":885,"o":6.4,"a":6.5,"b":6.9,"h":6.5},{"t":888,"o":7.0,"a":7.1,"b":7.4,"h":7.1},{"t":890,"o":6.3,"a":6.4,"b":6.9,"h":6.4},{"t":893,"o":7.2,"a":7.3,"b":7.5,"h":7.3},{"t":895,"o":6.4,"a":6.5,"b":6.9,"h":6.5},{"t":898,"o":7.0,"a":7.1,"b":7.4,"h":7.1},{"t":900,"o":7.5,"a":7.6,"b":7.8,"h":7.6},{"t":903,"o":9.0,"a":9.2,"b":9.0,"h":9.2},{"t":905,"o":11.2,"a":11.6,"b":10.8,"h":11.4},{"t":907,"o":8.0,"a":8.2,"b":8.4,"h":8.2},{"t":910,"o":6.5,"a":6.6,"b":7.0,"h":6.6},{"t":913,"o":7.2,"a":7.3,"b":7.5,"h":7.3},{"t":915,"o":6.4,"a":6.5,"b":6.9,"h":6.5},{"t":918,"o":7.0,"a":7.1,"b":7.4,"h":7.1},{"t":920,"o":9.0,"a":9.2,"b":9.0,"h":9.2},{"t":923,"o":13.2,"a":13.4,"b":12.8,"h":13.3},{"t":925,"o":9.0,"a":9.3,"b":9.3,"h":9.2},{"t":928,"o":6.5,"a":6.6,"b":7.0,"h":6.6},{"t":931,"o":7.0,"a":7.1,"b":7.4,"h":7.1},{"t":933,"o":6.3,"a":6.4,"b":6.9,"h":6.4},{"t":936,"o":7.2,"a":7.3,"b":7.5,"h":7.3},{"t":938,"o":8.5,"a":8.7,"b":8.6,"h":8.7},{"t":940,"o":7.0,"a":7.1,"b":7.4,"h":7.1},{"t":943,"o":6.3,"a":6.4,"b":6.9,"h":6.4},{"t":946,"o":7.2,"a":7.3,"b":7.5,"h":7.3},{"t":948,"o":6.4,"a":6.5,"b":6.9,"h":6.5},{"t":951,"o":7.0,"a":7.1,"b":7.4,"h":7.1},{"t":953,"o":6.3,"a":6.4,"b":6.9,"h":6.4},{"t":956,"o":8.5,"a":8.7,"b":8.6,"h":8.7},{"t":958,"o":11.0,"a":11.2,"b":10.8,"h":11.2},{"t":960,"o":10.0,"a":10.2,"b":10.2,"h":10.2},{"t":963,"o":13.8,"a":14.0,"b":13.5,"h":14.0},{"t":966,"o":12.0,"a":12.2,"b":12.3,"h":12.2},{"t":968,"o":10.5,"a":10.7,"b":10.8,"h":10.7},{"t":971,"o":13.5,"a":13.7,"b":13.2,"h":13.6},{"t":973,"o":12.0,"a":12.2,"b":12.2,"h":12.2},{"t":975,"o":9.0,"a":9.2,"b":9.4,"h":9.2},{"t":978,"o":10.3,"a":10.5,"b":10.2,"h":10.5},{"t":980,"o":7.5,"a":7.6,"b":7.8,"h":7.6},{"t":983,"o":6.5,"a":6.6,"b":7.0,"h":6.6},{"t":986,"o":7.5,"a":7.7,"b":7.8,"h":7.7},{"t":988,"o":10.0,"a":10.5,"b":10.0,"h":10.3},{"t":990,"o":15.3,"a":15.6,"b":14.8,"h":15.6},{"t":992,"o":10.0,"a":10.4,"b":10.4,"h":10.5},{"t":995,"o":8.0,"a":8.2,"b":8.4,"h":8.2},{"t":998,"o":7.0,"a":7.1,"b":7.4,"h":7.1},{"t":1000,"o":8.0,"a":8.2,"b":8.2,"h":8.2},{"t":1002,"o":7.0,"a":7.1,"b":7.4,"h":7.1},{"t":1005,"o":9.5,"a":9.7,"b":9.3,"h":9.7},{"t":1008,"o":7.0,"a":7.1,"b":7.4,"h":7.1},{"t":1011,"o":6.5,"a":6.6,"b":7.0,"h":6.6},{"t":1013,"o":7.2,"a":7.3,"b":7.5,"h":7.3},{"t":1016,"o":6.3,"a":6.4,"b":6.9,"h":6.4},{"t":1018,"o":7.0,"a":7.1,"b":7.4,"h":7.1},{"t":1021,"o":6.2,"a":6.3,"b":6.8,"h":6.3},{"t":1023,"o":7.3,"a":7.4,"b":7.6,"h":7.4},{"t":1026,"o":6.4,"a":6.5,"b":6.9,"h":6.5},{"t":1028,"o":7.0,"a":7.1,"b":7.4,"h":7.1},{"t":1031,"o":6.3,"a":6.4,"b":6.9,"h":6.4},{"t":1033,"o":7.2,"a":7.3,"b":7.5,"h":7.3},{"t":1036,"o":6.4,"a":6.5,"b":6.9,"h":6.5},{"t":1038,"o":7.0,"a":7.1,"b":7.4,"h":7.1},{"t":1041,"o":6.5,"a":6.6,"b":7.0,"h":6.6},{"t":1043,"o":8.0,"a":8.3,"b":8.2,"h":8.3},{"t":1046,"o":7.0,"a":7.1,"b":7.4,"h":7.1},{"t":1048,"o":8.0,"a":8.2,"b":8.2,"h":8.2},{"t":1051,"o":9.8,"a":10.0,"b":9.5,"h":10.0},{"t":1053,"o":7.5,"a":7.6,"b":7.8,"h":7.6},{"t":1056,"o":7.0,"a":7.1,"b":7.4,"h":7.1},{"t":1058,"o":6.5,"a":6.6,"b":7.0,"h":6.6},{"t":1061,"o":7.2,"a":7.3,"b":7.5,"h":7.3},{"t":1063,"o":6.3,"a":6.4,"b":6.9,"h":6.4},{"t":1066,"o":7.0,"a":7.1,"b":7.4,"h":7.1},{"t":1068,"o":6.3,"a":6.4,"b":6.9,"h":6.4},{"t":1071,"o":7.5,"a":7.6,"b":7.8,"h":7.6},{"t":1073,"o":9.2,"a":9.4,"b":9.0,"h":9.4},{"t":1075,"o":7.0,"a":7.1,"b":7.4,"h":7.1},{"t":1078,"o":6.4,"a":6.5,"b":6.9,"h":6.5},{"t":1081,"o":7.2,"a":7.3,"b":7.5,"h":7.3},{"t":1083,"o":6.3,"a":6.4,"b":6.9,"h":6.4},{"t":1086,"o":7.0,"a":7.1,"b":7.4,"h":7.1},{"t":1088,"o":7.5,"a":7.6,"b":7.8,"h":7.6},{"t":1091,"o":9.5,"a":9.8,"b":9.2,"h":9.7},{"t":1093,"o":7.2,"a":7.3,"b":7.5,"h":7.3},{"t":1096,"o":6.4,"a":6.5,"b":6.9,"h":6.5},{"t":1098,"o":7.0,"a":7.1,"b":7.4,"h":7.1},{"t":1101,"o":6.2,"a":6.3,"b":6.8,"h":6.3},{"t":1103,"o":7.2,"a":7.3,"b":7.5,"h":7.3},{"t":1106,"o":6.4,"a":6.5,"b":6.9,"h":6.5},{"t":1108,"o":7.0,"a":7.1,"b":7.4,"h":7.1},{"t":1111,"o":6.5,"a":6.6,"b":7.0,"h":6.6},{"t":1113,"o":7.5,"a":7.6,"b":7.8,"h":7.6},{"t":1115,"o":9.5,"a":9.7,"b":9.2,"h":9.7},{"t":1117,"o":7.0,"a":7.1,"b":7.4,"h":7.1},{"t":1120,"o":6.3,"a":6.4,"b":6.9,"h":6.4},{"t":1123,"o":7.2,"a":7.3,"b":7.5,"h":7.3},{"t":1125,"o":6.4,"a":6.5,"b":6.9,"h":6.5},{"t":1128,"o":7.0,"a":7.1,"b":7.4,"h":7.1},{"t":1131,"o":5.2,"a":5.5,"b":6.2,"h":5.6},{"t":1133,"o":8.0,"a":8.3,"b":8.2,"h":8.3},{"t":1136,"o":12.8,"a":13.0,"b":12.3,"h":12.9},{"t":1138,"o":10.0,"a":10.3,"b":10.2,"h":10.3},{"t":1141,"o":8.0,"a":8.2,"b":8.4,"h":8.2},{"t":1143,"o":7.5,"a":7.6,"b":7.8,"h":7.6},{"t":1146,"o":8.0,"a":8.2,"b":8.2,"h":8.2},{"t":1148,"o":9.0,"a":9.2,"b":9.0,"h":9.2},{"t":1150,"o":8.0,"a":8.2,"b":8.3,"h":8.2},{"t":1153,"o":9.5,"a":9.7,"b":9.5,"h":9.7},{"t":1155,"o":12.8,"a":13.2,"b":12.3,"h":13.3},{"t":1157,"o":9.5,"a":9.8,"b":9.8,"h":9.8},{"t":1160,"o":8.5,"a":8.7,"b":8.7,"h":8.7},{"t":1163,"o":7.5,"a":7.3,"b":7.8,"h":7.1},{"t":1165,"o":8.0,"a":8.2,"b":8.2,"h":8.2},{"t":1168,"o":7.5,"a":7.6,"b":7.8,"h":7.6},{"t":1171,"o":8.5,"a":8.7,"b":8.6,"h":8.7},{"t":1173,"o":7.0,"a":7.1,"b":7.4,"h":7.1},{"t":1176,"o":8.5,"a":8.7,"b":8.6,"h":8.7},{"t":1178,"o":10.8,"a":11.0,"b":10.5,"h":11.0},{"t":1180,"o":9.0,"a":9.2,"b":9.2,"h":9.2},{"t":1183,"o":8.0,"a":8.2,"b":8.3,"h":8.2},{"t":1186,"o":8.5,"a":8.7,"b":8.6,"h":8.7},{"t":1188,"o":7.5,"a":7.6,"b":7.8,"h":7.6},{"t":1191,"o":10.0,"a":10.2,"b":9.8,"h":10.2},{"t":1193,"o":8.0,"a":8.2,"b":8.3,"h":8.2},{"t":1196,"o":9.5,"a":9.7,"b":9.5,"h":9.7},{"t":1198,"o":12.5,"a":12.7,"b":12.0,"h":12.4},{"t":1200,"o":9.0,"a":9.2,"b":9.3,"h":9.2},{"t":1203,"o":7.0,"a":7.1,"b":7.4,"h":7.1},{"t":1205,"o":6.3,"a":6.4,"b":6.9,"h":6.4},{"t":1208,"o":7.2,"a":7.3,"b":7.5,"h":7.3},{"t":1211,"o":8.0,"a":8.2,"b":8.3,"h":8.2},{"t":1213,"o":6.5,"a":6.6,"b":7.0,"h":6.6},{"t":1216,"o":7.5,"a":7.6,"b":7.8,"h":7.6},{"t":1218,"o":6.4,"a":6.5,"b":6.9,"h":6.5},{"t":1220,"o":7.0,"a":7.1,"b":7.4,"h":7.1}
]
},
"vconcat": [
{
  "width": 465, "height": 208,
  "data": {"name": "c"},
  "title": {"text": "c) 预测未来30 s背压"},
  "encoding": {"x": {"field": "t", "type": "quantitative", "scale": {"domain": [0, 1223], "range": [0, 457], "nice": false, "zero": false}, "axis": {"title": "2022年时刻", "values": [0, 611.5, 1223], "labelExpr": "datum.value == 0 ? '10/23 15:30' : datum.value < 1000 ? '10/24 15:15' : '10/25 15:00'"}}},
  "layer": [
    {"mark": {"type": "line", "strokeWidth": 2},
     "encoding": {
       "y": {"field": "a", "type": "quantitative", "scale": {"domain": [5, 13.6], "nice": false, "zero": false}, "axis": {"title": "背压/kPa", "values": [5,6,7,8,9,10,11,12,13], "labelFlush": true, "labelFlushOffset": 5, "titleX": -43, "titleY": 115}},
       "color": {"datum": "Attention-LSTM-在线", "type": "nominal", "scale": {"domain": ["Attention-LSTM-在线", "背压原值"], "range": ["#e8262b", "#1f6fb4"]}, "legend": {"legendX": 272, "legendY": -4, "symbolSize": 235, "labelOffset": 23, "rowPadding": 8}},
       "strokeDash": {"datum": "Attention-LSTM-在线", "type": "nominal", "scale": {"domain": ["Attention-LSTM-在线", "背压原值"], "range": [[2, 2], [1, 0]]}, "legend": {"legendX": 272, "legendY": -4, "symbolSize": 235, "labelOffset": 23, "rowPadding": 8}}
     }},
    {"mark": {"type": "line", "strokeWidth": 1.8},
     "encoding": {
       "y": {"field": "o", "type": "quantitative", "scale": {"domain": [5, 13.6], "nice": false, "zero": false}, "axis": {"title": "背压/kPa", "values": [5,6,7,8,9,10,11,12,13], "labelFlush": true, "labelFlushOffset": 5, "titleX": -43, "titleY": 115}},
       "color": {"datum": "背压原值", "type": "nominal", "scale": {"domain": ["Attention-LSTM-在线", "背压原值"], "range": ["#e8262b", "#1f6fb4"]}},
       "strokeDash": {"datum": "背压原值", "type": "nominal", "scale": {"domain": ["Attention-LSTM-在线", "背压原值"], "range": [[2, 2], [1, 0]]}}
     }}
  ]
},
{
  "width": 465, "height": 208,
  "data": {"name": "d"},
  "title": {"text": "d) 预测未来1 min背压", "offset": 13},
  "encoding": {"x": {"field": "t", "type": "quantitative", "scale": {"domain": [0, 1218], "range": [5, 461], "nice": false, "zero": false}, "axis": {"title": "2022年时刻", "values": [0, 605, 1218], "labelExpr": "datum.value == 0 ? '10/21 16:30' : datum.value < 1000 ? '10/23 15:30' : '10/25 15:00'"}}},
  "layer": [
    {"mark": {"type": "line", "strokeWidth": 2},
     "encoding": {
       "y": {"field": "a", "type": "quantitative", "scale": {"domain": [5, 15], "nice": false, "zero": false}, "axis": {"title": "背压/kPa", "values": [6,8,10,12,14], "offset": -5, "titleX": -48, "titleY": 113}},
       "color": {"datum": "Attention-LSTM-在线", "type": "nominal", "scale": {"domain": ["Attention-LSTM-在线", "背压原值"], "range": ["#e8262b", "#1f6fb4"]}, "legend": {"legendX": 263, "legendY": -6, "symbolSize": 196, "labelOffset": 19, "rowPadding": 5}},
       "strokeDash": {"datum": "Attention-LSTM-在线", "type": "nominal", "scale": {"domain": ["Attention-LSTM-在线", "背压原值"], "range": [[2, 2], [1, 0]]}, "legend": {"legendX": 263, "legendY": -6, "symbolSize": 196, "labelOffset": 19, "rowPadding": 5}}
     }},
    {"mark": {"type": "line", "strokeWidth": 1.8},
     "encoding": {
       "y": {"field": "o", "type": "quantitative", "scale": {"domain": [5, 15], "nice": false, "zero": false}, "axis": {"title": "背压/kPa", "values": [6,8,10,12,14], "offset": -5, "titleX": -48, "titleY": 113}},
       "color": {"datum": "背压原值", "type": "nominal", "scale": {"domain": ["Attention-LSTM-在线", "背压原值"], "range": ["#e8262b", "#1f6fb4"]}},
       "strokeDash": {"datum": "背压原值", "type": "nominal", "scale": {"domain": ["Attention-LSTM-在线", "背压原值"], "range": [[2, 2], [1, 0]]}}
     }}
  ]
},
{
  "width": 465, "height": 208,
  "data": {"name": "ef"},
  "title": {"text": "e) 预测未来15 min背压", "offset": 12},
  "encoding": {"x": {"field": "t", "type": "quantitative", "scale": {"domain": [0, 1220], "range": [9, 465], "nice": false, "zero": false}, "axis": {"title": "2022年时刻", "titlePadding": 16, "values": [0, 611, 1220], "labelExpr": "datum.value == 0 ? '08/28 22:00' : datum.value < 1000 ? '09/26 18:30' : '10/25 15:00'"}}},
  "layer": [
    {"mark": {"type": "line", "strokeWidth": 2},
     "encoding": {
       "y": {"field": "a", "type": "quantitative", "scale": {"domain": [2.5, 27], "nice": false, "zero": false}, "axis": {"title": "背压/kPa", "values": [5,10,15,20,25], "offset": -9, "titleX": -52, "titleY": 118}},
       "color": {"datum": "Attention-LSTM-在线", "type": "nominal", "scale": {"domain": ["Attention-LSTM-在线", "Attention-LSTM-离线", "背压原值"], "range": ["#e8262b", "#7fb32a", "#1f6fb4"]}, "legend": {"legendX": 262, "legendY": 0, "symbolSize": 245, "labelOffset": 19, "rowPadding": 7.5}},
       "strokeDash": {"datum": "Attention-LSTM-在线", "type": "nominal", "scale": {"domain": ["Attention-LSTM-在线", "Attention-LSTM-离线", "背压原值"], "range": [[2, 2], [2, 2], [1, 0]]}, "legend": {"legendX": 262, "legendY": 0, "symbolSize": 245, "labelOffset": 19, "rowPadding": 7.5}}
     }},
    {"mark": {"type": "line", "strokeWidth": 2},
     "encoding": {
       "y": {"field": "b", "type": "quantitative", "scale": {"domain": [2.5, 27], "nice": false, "zero": false}, "axis": {"title": "背压/kPa", "values": [5,10,15,20,25], "offset": -9, "titleX": -52, "titleY": 118}},
       "color": {"datum": "Attention-LSTM-离线", "type": "nominal", "scale": {"domain": ["Attention-LSTM-在线", "Attention-LSTM-离线", "背压原值"], "range": ["#e8262b", "#7fb32a", "#1f6fb4"]}},
       "strokeDash": {"datum": "Attention-LSTM-离线", "type": "nominal", "scale": {"domain": ["Attention-LSTM-在线", "Attention-LSTM-离线", "背压原值"], "range": [[2, 2], [2, 2], [1, 0]]}}
     }},
    {"mark": {"type": "line", "strokeWidth": 2},
     "encoding": {
       "y": {"field": "o", "type": "quantitative", "scale": {"domain": [2.5, 27], "nice": false, "zero": false}, "axis": {"title": "背压/kPa", "values": [5,10,15,20,25], "offset": -9, "titleX": -52, "titleY": 118}},
       "color": {"datum": "背压原值", "type": "nominal", "scale": {"domain": ["Attention-LSTM-在线", "Attention-LSTM-离线", "背压原值"], "range": ["#e8262b", "#7fb32a", "#1f6fb4"]}},
       "strokeDash": {"datum": "背压原值", "type": "nominal", "scale": {"domain": ["Attention-LSTM-在线", "Attention-LSTM-离线", "背压原值"], "range": [[2, 2], [2, 2], [1, 0]]}}
     }}
  ]
},
{
  "width": 465, "height": 208,
  "data": {"name": "ef"},
  "title": {"text": "f) 预测未来1 h背压"},
  "encoding": {"x": {"field": "t", "type": "quantitative", "scale": {"domain": [0, 1220], "range": [9, 465], "nice": false, "zero": false}, "axis": {"title": "2022年时刻", "values": [0, 611, 1220], "labelExpr": "datum.value == 0 ? '08/28 22:00' : datum.value < 1000 ? '09/26 18:30' : '10/25 15:00'"}}},
  "layer": [
    {"mark": {"type": "line", "strokeWidth": 2},
     "encoding": {
       "y": {"field": "h", "type": "quantitative", "scale": {"domain": [2.5, 27], "nice": false, "zero": false}, "axis": {"title": "背压/kPa", "values": [5,10,15,20,25], "offset": -9, "titleX": -52, "titleY": 118}},
       "color": {"datum": "Attention-LSTM-在线", "type": "nominal", "scale": {"domain": ["Attention-LSTM-在线", "背压原值"], "range": ["#e8262b", "#1f6fb4"]}, "legend": {"legendX": 260, "legendY": -1, "symbolSize": 245, "labelOffset": 21, "rowPadding": 10}},
       "strokeDash": {"datum": "Attention-LSTM-在线", "type": "nominal", "scale": {"domain": ["Attention-LSTM-在线", "背压原值"], "range": [[2, 2], [1, 0]]}, "legend": {"legendX": 260, "legendY": -1, "symbolSize": 245, "labelOffset": 21, "rowPadding": 10}}
     }},
    {"mark": {"type": "line", "strokeWidth": 2},
     "encoding": {
       "y": {"field": "o", "type": "quantitative", "scale": {"domain": [2.5, 27], "nice": false, "zero": false}, "axis": {"title": "背压/kPa", "values": [5,10,15,20,25], "offset": -9, "titleX": -52, "titleY": 118}},
       "color": {"datum": "背压原值", "type": "nominal", "scale": {"domain": ["Attention-LSTM-在线", "背压原值"], "range": ["#e8262b", "#1f6fb4"]}},
       "strokeDash": {"datum": "背压原值", "type": "nominal", "scale": {"domain": ["Attention-LSTM-在线", "背压原值"], "range": [[2, 2], [1, 0]]}}
     }}
  ]
}
]
}
